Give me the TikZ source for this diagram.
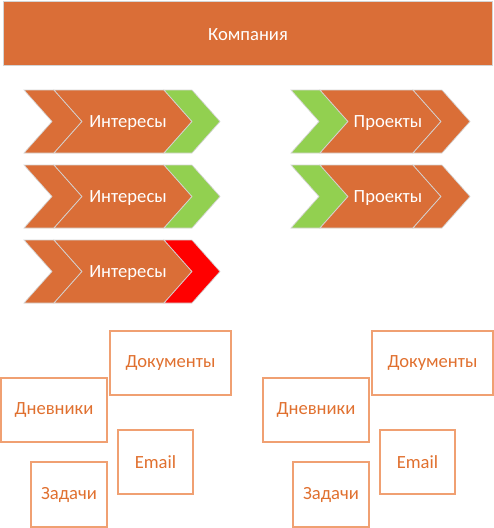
\documentclass[tikz,border=0pt]{standalone}
\usepackage{fontspec}
\setmainfont{Carlito}
\usetikzlibrary{positioning}
\definecolor{rust}{HTML}{DA6E37}
\definecolor{leaf}{HTML}{92D050}
\definecolor{alarm}{HTML}{FF0000}
\definecolor{seam}{HTML}{D4D4D4}
\definecolor{peach}{HTML}{F0A072}
\definecolor{rusttext}{HTML}{E0702F}
\tikzset{
  band/.style={draw=seam,line width=0.7pt,line join=miter},
  tag/.style={font=\fontsize{18.6}{22}\selectfont,text=white,inner sep=0pt,yshift=-1.5pt},
  card/.style={draw=peach,line width=1.4pt,font=\fontsize{18.6}{22}\selectfont,text=rusttext,inner sep=0pt,anchor=center}
}
\begin{document}
\begin{tikzpicture}[x=1pt,y=-1pt]
\useasboundingbox (0,0) rectangle (494,528);
% top bar
\fill[rust,draw=seam,line width=0.7pt] (3.5,1.5) rectangle (492.5,65);
\node[tag] (firm) at (248,33) {Компания};
% left chevrons: three rows, the last one ends in red
\foreach \row/\top/\tipcol in {1/90/leaf,2/165/leaf,3/240/alarm} {
  \pgfmathsetmacro\mid{\top+31.5}\pgfmathsetmacro\bot{\top+63}
  \fill[rust,band] (24,\top) -- (54,\top) -- (82,\mid) -- (54,\bot) -- (24,\bot) -- (52,\mid) -- cycle;
  \fill[rust,band] (54,\top) -- (164,\top) -- (192,\mid) -- (164,\bot) -- (54,\bot) -- (82,\mid) -- cycle;
  \fill[\tipcol,band] (164,\top) -- (192,\top) -- (220,\mid) -- (192,\bot) -- (164,\bot) -- (192,\mid) -- cycle;
  \node[tag] (int\row) at (128,\mid) {Интересы};
}
% right chevrons: green start
\foreach \row/\top in {1/90,2/165} {
  \pgfmathsetmacro\mid{\top+31.5}\pgfmathsetmacro\bot{\top+63}
  \fill[leaf,band] (291,\top) -- (320,\top) -- (348,\mid) -- (320,\bot) -- (291,\bot) -- (319,\mid) -- cycle;
  \fill[rust,band] (320,\top) -- (413,\top) -- (441,\mid) -- (413,\bot) -- (320,\bot) -- (348,\mid) -- cycle;
  \fill[rust,band] (413,\top) -- (442,\top) -- (470,\mid) -- (442,\bot) -- (413,\bot) -- (441,\mid) -- cycle;
  \node[tag] (proj\row) at (388,\mid) {Проекты};
}
% two groups of cards
\foreach \grp/\dx in {a/0,b/262} {
  \begin{scope}[xshift=\dx]
  \node[card,minimum width=121,minimum height=64] (docs\grp) at (170.5,363) {Документы};
  \node[card,minimum width=106,minimum height=64] (diary\grp) at (54,410) {Дневники};
  \node[card,minimum width=75,minimum height=64] (mail\grp) at (155.5,462) {Email};
  \node[card,minimum width=76,minimum height=65] (task\grp) at (69,494.5) {Задачи};
  \end{scope}
}
\end{tikzpicture}
\end{document}
